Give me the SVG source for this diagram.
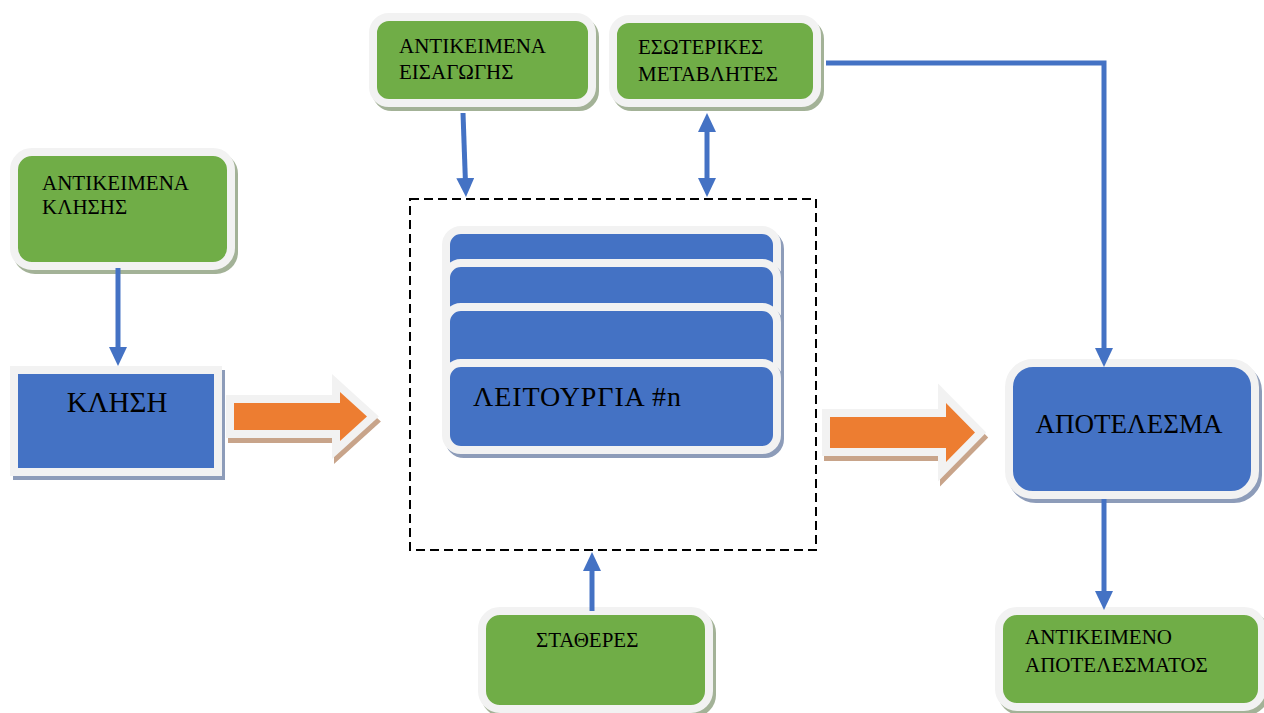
<svg xmlns="http://www.w3.org/2000/svg" width="1264" height="713" viewBox="0 0 1264 713">
  <style>
    .bg { fill: #ffffff; }
    .green { fill: #70ad47; stroke: #f2f2f2; stroke-width: 8; }
    .blue { fill: #4472c4; stroke: #f2f2f2; stroke-width: 8; }
    .gshadow { fill: #a3b297; stroke: #a3b297; stroke-width: 8; }
    .bshadow { fill: #8d9cb9; stroke: #8d9cb9; stroke-width: 8; }
    .label { font-family: "Liberation Serif", "Times New Roman", serif; fill: #000000; }
    .small { font-size: 21px; }
    .big { font-size: 27px; }
    .conn { fill: none; stroke: #4472c4; stroke-width: 5; }
    .frame { fill: none; stroke: #000000; stroke-width: 2; stroke-dasharray: 9 5; }
    .block { fill: #ed7d31; stroke: #f2f2f2; stroke-width: 16; stroke-linejoin: miter; stroke-miterlimit: 10; paint-order: stroke; }
    .blockshadow { fill: #c8a48a; stroke: #c8a48a; stroke-width: 16; stroke-linejoin: miter; stroke-miterlimit: 10; }
  </style>
  <defs>
    <marker id="head" markerUnits="userSpaceOnUse" markerWidth="19" markerHeight="18" refX="11" refY="9" orient="auto-start-reverse">
      <path d="M0,0 L19,9 L0,18 Z" fill="#4472c4"/>
    </marker>
  </defs>

  <rect class="bg" x="0" y="0" width="1264" height="713"/>

  <!-- dashed frame around the function stack -->
  <g id="frame">
    <rect class="frame" x="410" y="199" width="406" height="351"/>
  </g>

  <!-- call objects -->
  <g id="call-objects">
    <rect class="gshadow" x="17" y="156" width="217" height="114" rx="18"/>
    <rect class="green" x="14" y="152" width="217" height="114" rx="18"/>
    <text class="label small" x="42" y="190">ΑΝΤΙΚΕΙΜΕΝΑ</text>
    <text class="label small" x="42" y="214">ΚΛΗΣΗΣ</text>
  </g>

  <!-- call -->
  <g id="call">
    <rect class="bshadow" x="17" y="374" width="204" height="102"/>
    <rect class="blue" x="14" y="370" width="204" height="102"/>
    <text class="label" x="117" y="412" font-size="29" text-anchor="middle">ΚΛΗΣΗ</text>
  </g>

  <!-- input objects -->
  <g id="input-objects">
    <rect class="gshadow" x="376" y="21" width="219" height="86" rx="16"/>
    <rect class="green" x="373" y="17" width="219" height="86" rx="16"/>
    <text class="label small" x="399" y="53">ΑΝΤΙΚΕΙΜΕΝΑ</text>
    <text class="label small" x="399" y="79">ΕΙΣΑΓΩΓΗΣ</text>
  </g>

  <!-- internal variables -->
  <g id="internal-variables">
    <rect class="gshadow" x="616" y="23" width="204" height="84" rx="16"/>
    <rect class="green" x="613" y="19" width="204" height="84" rx="16"/>
    <text class="label small" x="638" y="54">ΕΣΩΤΕΡΙΚΕΣ</text>
    <text class="label small" x="638" y="81">ΜΕΤΑΒΛΗΤΕΣ</text>
  </g>

  <!-- stacked functions -->
  <g id="functions">
    <rect class="bshadow" x="449" y="234" width="331" height="87" rx="15"/>
    <rect class="blue" x="446" y="230" width="331" height="87" rx="15"/>
    <rect class="bshadow" x="449" y="267" width="331" height="87" rx="15"/>
    <rect class="blue" x="446" y="263" width="331" height="87" rx="15"/>
    <rect class="bshadow" x="449" y="311" width="331" height="87" rx="15"/>
    <rect class="blue" x="446" y="307" width="331" height="87" rx="15"/>
    <rect class="bshadow" x="449" y="367" width="331" height="87" rx="15"/>
    <rect class="blue" x="446" y="363" width="331" height="87" rx="15"/>
    <text class="label" x="473" y="406" font-size="28" textLength="208" lengthAdjust="spacing">ΛΕΙΤΟΥΡΓΙΑ #n</text>
  </g>

  <!-- result -->
  <g id="result">
    <rect class="bshadow" x="1012" y="367" width="246" height="132" rx="24"/>
    <rect class="blue" x="1009" y="363" width="246" height="132" rx="24"/>
    <text class="label big" x="1129" y="433" text-anchor="middle">ΑΠΟΤΕΛΕΣΜΑ</text>
  </g>

  <!-- constants -->
  <g id="constants">
    <rect class="gshadow" x="485" y="615" width="227" height="98" rx="18"/>
    <rect class="green" x="482" y="611" width="227" height="98" rx="18"/>
    <text class="label small" x="536" y="647">ΣΤΑΘΕΡΕΣ</text>
  </g>

  <!-- result object -->
  <g id="result-object">
    <rect class="gshadow" x="1002" y="615" width="263" height="96" rx="18"/>
    <rect class="green" x="999" y="611" width="263" height="96" rx="18"/>
    <text class="label small" x="1025" y="644">ΑΝΤΙΚΕΙΜΕΝΟ</text>
    <text class="label small" x="1025" y="672">ΑΠΟΤΕΛΕΣΜΑΤΟΣ</text>
  </g>

  <!-- connectors -->
  <g id="connectors">
    <line class="conn" x1="118" y1="268" x2="118" y2="358" marker-end="url(#head)"/>
    <line class="conn" x1="463" y1="113" x2="465.7" y2="189" marker-end="url(#head)"/>
    <line class="conn" x1="707" y1="121" x2="707" y2="189" marker-start="url(#head)" marker-end="url(#head)"/>
    <polyline class="conn" points="826,63 1104,63 1104,359" marker-end="url(#head)"/>
    <line class="conn" x1="1104" y1="499" x2="1104" y2="602" marker-end="url(#head)"/>
    <line class="conn" x1="592" y1="611" x2="592" y2="560" marker-end="url(#head)"/>

    <!-- block arrows -->
    <path class="blockshadow" transform="translate(2,5)" d="M234,403 L340,403 L340,392 L367,416.5 L340,441 L340,430 L234,430 Z"/>
    <path class="block" d="M234,403 L340,403 L340,392 L367,416.5 L340,441 L340,430 L234,430 Z"/>
    <path class="blockshadow" transform="translate(2,5)" d="M830,417 L946,417 L946,403 L975,432.5 L946,462 L946,448 L830,448 Z"/>
    <path class="block" d="M830,417 L946,417 L946,403 L975,432.5 L946,462 L946,448 L830,448 Z"/>
  </g>
</svg>
